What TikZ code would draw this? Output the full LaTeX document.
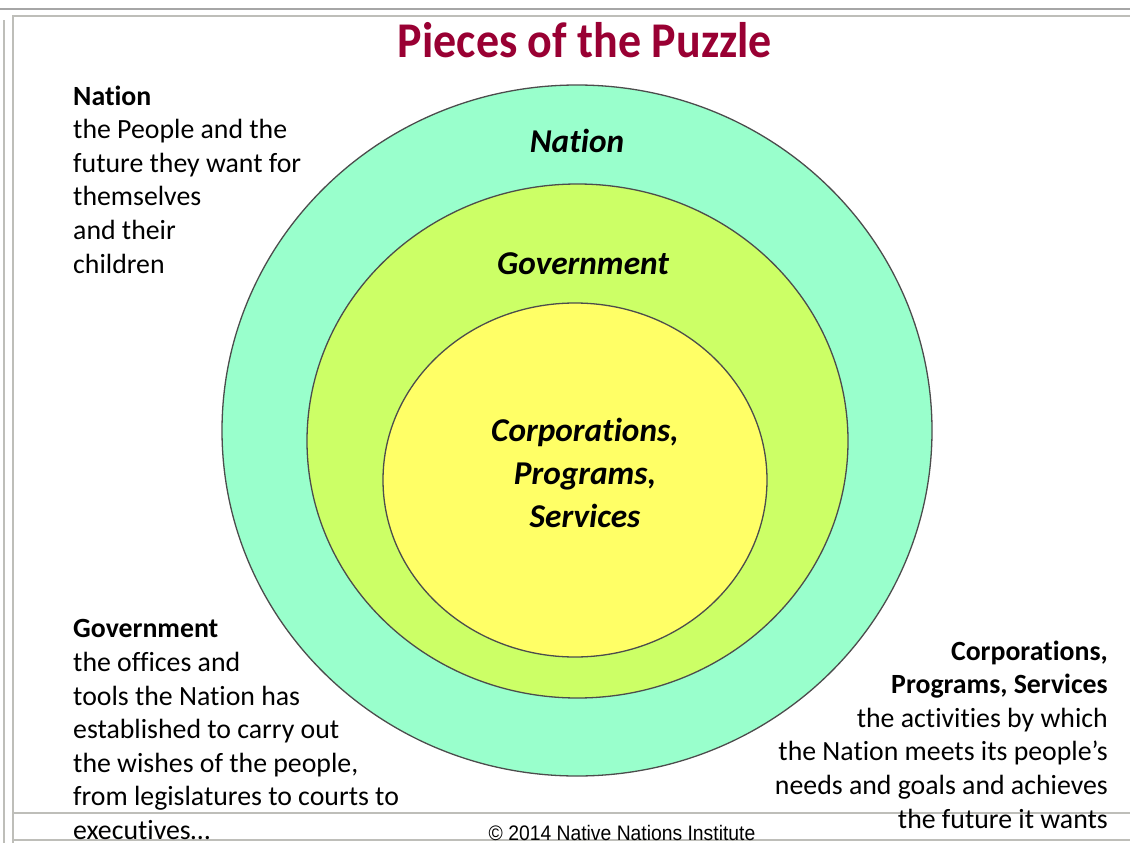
\documentclass[tikz,border=0pt]{standalone}
\usepackage{fontspec}
\setmainfont{Carlito}[Ligatures=NoCommon]
\newfontfamily\footfont{Liberation Sans}
\usetikzlibrary{shapes.geometric}
\definecolor{ringA}{RGB}{153,255,204}
\definecolor{ringB}{RGB}{204,255,102}
\definecolor{ringC}{RGB}{255,255,102}
\definecolor{titlered}{RGB}{153,0,51}
\definecolor{framegray}{RGB}{190,190,185}
\tikzset{
  ring/.style={ellipse, draw=black!70, line width=1.3pt, inner sep=0pt},
  desc/.style={inner sep=0pt, font=\fontsize{27.8}{33.6}\selectfont},
  ringlabel/.style={inner sep=0pt, font=\fontsize{33.3}{43}\selectfont\bfseries\itshape, align=center},
  frameline/.style={draw=framegray, line width=1.2pt}
}
\begin{document}
\begin{tikzpicture}[x=1pt,y=-1pt]
\useasboundingbox (0,0) rectangle (1130,843);
\fill[white] (0,0) rectangle (1130,843);
% slide frame
\draw[draw=gray!70, line width=2pt] (0,9) -- (1130,9);
\draw[frameline] (13,843) -- (13,16) -- (1130,16);
\draw[frameline] (4,843) -- (4,20);
\draw[frameline] (13,813) -- (1130,813);
\draw[frameline] (13,840) -- (1130,840);
% title
\node[inner sep=0pt, text=titlered, font=\fontsize{50}{60}\selectfont\bfseries, xscale=0.92] (title) at (585,40) {Pieces of the Puzzle};
% rings
\node[ring, fill=ringA, minimum width=710pt, minimum height=691pt] (outer) at (577,430.5) {};
\node[ring, fill=ringB, minimum width=541pt, minimum height=514pt] (middle) at (577.5,441) {};
\node[ring, fill=ringC, minimum width=384pt, minimum height=354pt] (inner) at (575,480) {};
% ring labels
\node[ringlabel] (lnation) at (577,141) {Nation};
\node[ringlabel] (lgov) at (583,264) {Government};
\node[ringlabel] (lcorp) at (585,473) {Corporations,\\Programs,\\Services};
% descriptions (base anchor = last line's baseline)
\node[desc, anchor=base west, align=left] (dnation) at (73,273) {\textbf{Nation}\\the People and the\\future they want for\\themselves\\and their\\children};
\node[desc, anchor=base west, align=left] (dgov) at (73,839.5) {\textbf{Government}\\the offices and\\tools the Nation has\\established to carry out\\the wishes of the people,\\from legislatures to courts to\\executives\ldots};
\node[desc, anchor=base east, align=right] (dcorp) at (1108,828) {\textbf{Corporations,}\\\textbf{Programs, Services}\\the activities by which\\the Nation meets its people’s\\needs and goals and achieves\\the future it wants};
% footer
\node[inner sep=0pt, font=\footfont\fontsize{21}{24}\selectfont, xscale=0.92] (foot) at (622,833) {© 2014 Native Nations Institute};
\end{tikzpicture}
\end{document}
